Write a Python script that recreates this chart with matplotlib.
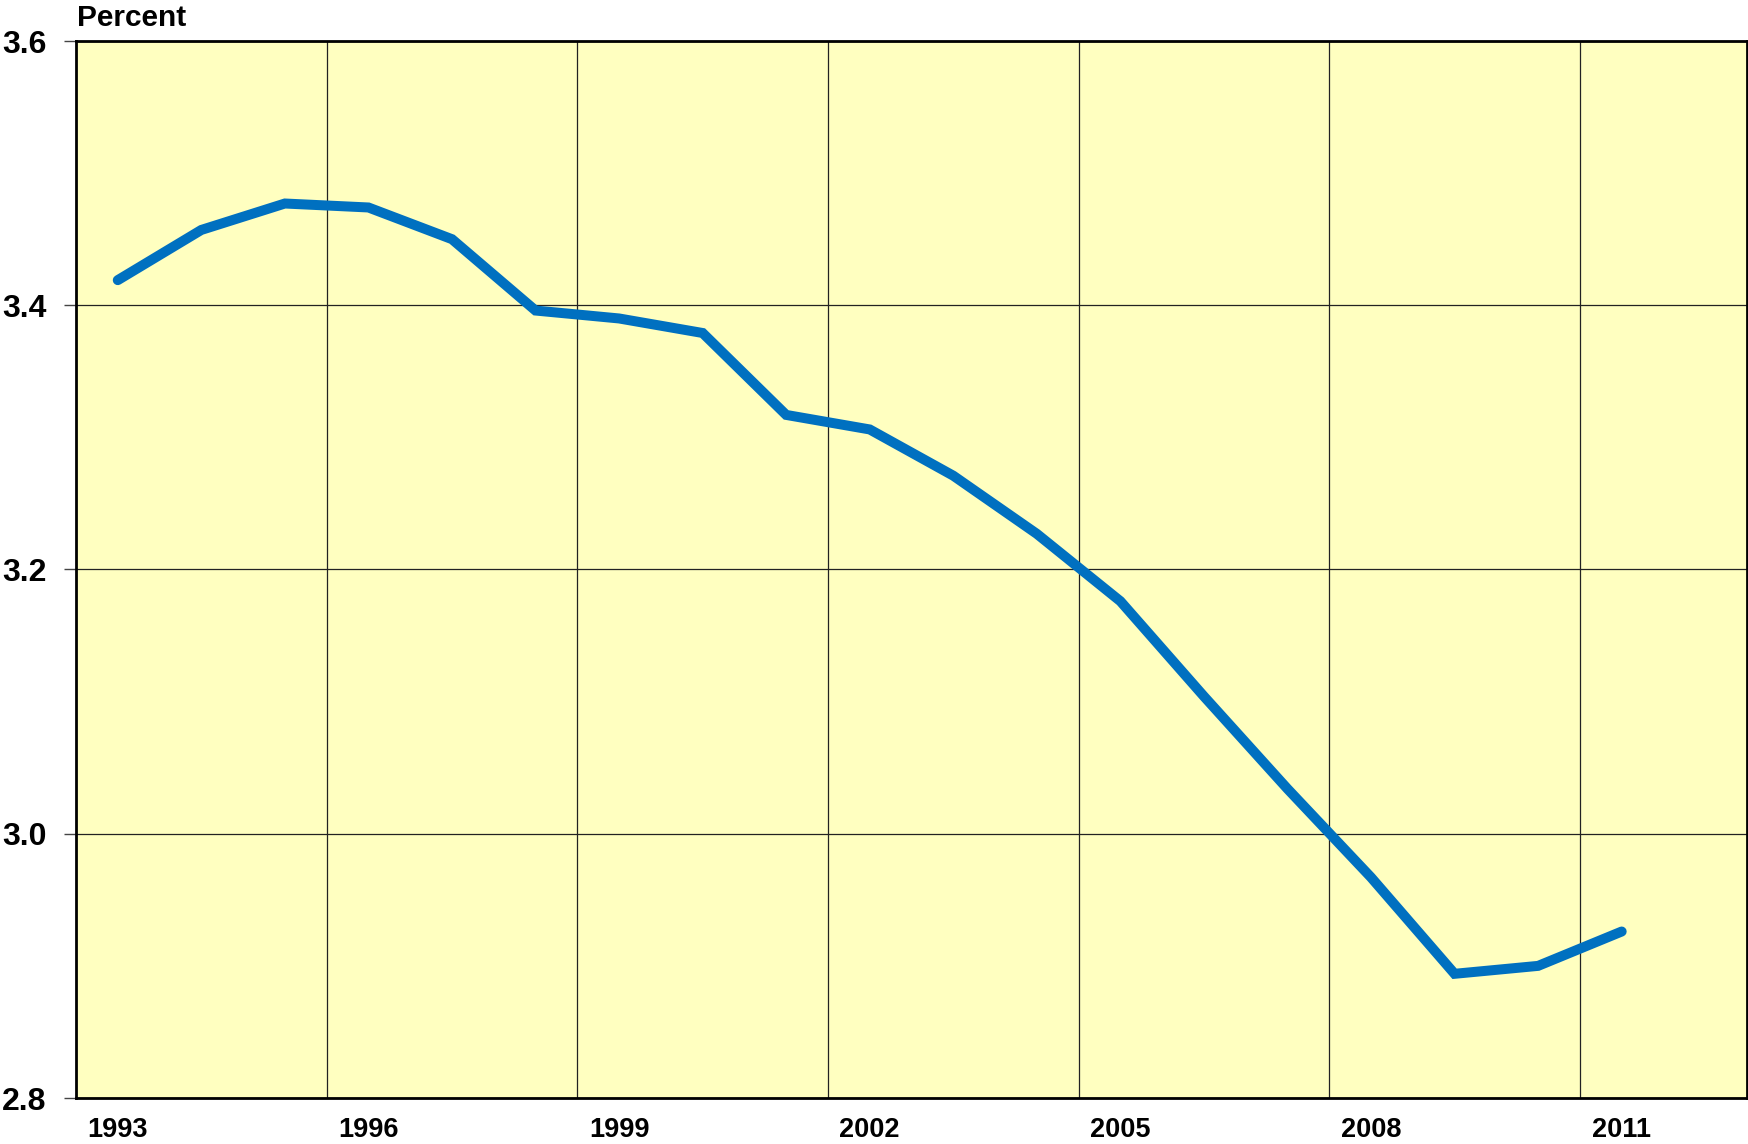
import numpy as np
import matplotlib.pyplot as plt
from matplotlib.ticker import FixedLocator

plt.rcParams['font.family'] = ['Liberation Sans', 'DejaVu Sans']

years = list(range(1993, 2012))
values = [3.419, 3.457, 3.477, 3.474, 3.450, 3.396, 3.390, 3.379, 3.317, 3.306,
          3.271, 3.227, 3.176, 3.104, 3.034, 2.967, 2.894, 2.900, 2.926]
year_labels = [1993, 1996, 1999, 2002, 2005, 2008, 2011]
y_ticks = [2.8, 3.0, 3.2, 3.4, 3.6]

fig = plt.figure(figsize=(17.48, 11.44), dpi=100)
ax = fig.add_axes([76 / 1748, 1 - 1098 / 1144, 1671 / 1748, (1098 - 41) / 1144])
ax.set_facecolor('#FFFFC0')

ax.plot(years, values, color='#0070C0', lw=7.2, solid_capstyle='round',
        solid_joinstyle='miter', zorder=3)

ax.set_xlim(1992.5, 2012.5)
ax.set_ylim(2.8, 3.6)

ax.set_xticks(year_labels)
ax.set_xticklabels([str(y) for y in year_labels], fontsize=19.5, fontweight='bold')
ax.xaxis.set_minor_locator(FixedLocator([y + 2.5 for y in year_labels[:-1]]))
ax.tick_params(axis='x', which='both', length=0, pad=14)
ax.grid(True, axis='x', which='minor', color='#222222', lw=0.9)

ax.set_yticks(y_ticks)
ax.set_yticklabels(['%.1f' % v for v in y_ticks], fontsize=23, fontweight='bold')
ax.tick_params(axis='y', length=9, width=1, color='#444444', pad=12)
ax.grid(True, axis='y', which='major', color='#222222', lw=0.9)

for s in ax.spines.values():
    s.set_linewidth(2)
    s.set_color('black')
    s.set_zorder(4)

fig.text(77 / 1748, 1 - 18 / 1144, 'Percent', fontsize=21.5, fontweight='bold',
         ha='left', va='center')

fig.savefig('out.png', dpi=100)
